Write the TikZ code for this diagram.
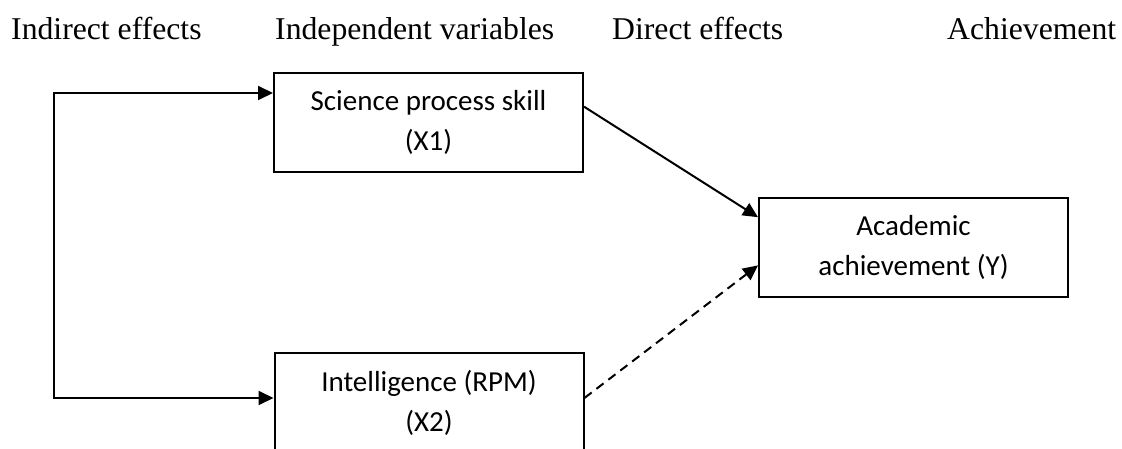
\documentclass[tikz,border=0pt]{standalone}
\usepackage{fontspec}
\setmainfont{Liberation Serif}
\newfontfamily\boxfont{Carlito}
\usetikzlibrary{arrows.meta,calc}
\tikzset{
  tip/.tip={Triangle[length=15pt,width=14pt]},
  hdr/.style={anchor=base west,inner sep=0pt,font=\fontsize{31.7}{38}\selectfont},
  varbox/.style={draw,line width=2pt,minimum width=309pt,minimum height=99pt,
    inner sep=0pt,align=center,font=\boxfont\fontsize{29}{40}\selectfont},
  conn/.style={line width=2pt,-tip},
  biconn/.style={line width=2pt,tip-tip,line join=miter},
  dashconn/.style={conn,dash pattern=on 9pt off 6pt}
}
\begin{document}
\begin{tikzpicture}[x=1pt,y=-1pt]
\useasboundingbox (0,0) rectangle (1122,449);
\clip (0,0) rectangle (1122,449);
% headers
\node[hdr] (h1) at (11,40) {Indirect effects};
\node[hdr] (h2) at (275,40) {Independent variables};
\node[hdr] (h3) at (612,40) {Direct effects};
\node[hdr] (h4) at (947,40) {Achievement};
% boxes
\node[varbox] (X1) at (428.5,122.5) {Science process skill\\(X1)};
\node[varbox] (X2) at (429,402.5) {Intelligence (RPM)\\(X2)};
\node[varbox] (Y) at (913.5,247.5) {Academic\\achievement (Y)};
% bracket
\coordinate (bt) at (54,93);
\coordinate (bb) at (54,398);
\draw[biconn] (X1.west |- bt) -- (bt) -- (bb) -- (X2.west |- bb);
% direct effects
\draw[conn] ($(X1.north east)!0.343!(X1.south east)$) -- ($(Y.north west)!0.20!(Y.south west)$);
\draw[dashconn] ($(X2.north east)!0.455!(X2.south east)$) -- ($(Y.north west)!0.677!(Y.south west)$);
\end{tikzpicture}
\end{document}
